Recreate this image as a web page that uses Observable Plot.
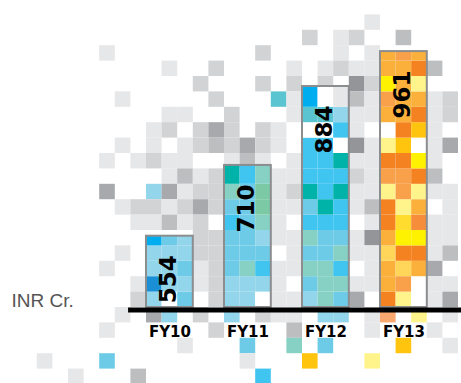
<!DOCTYPE html>
<html>
<head>
<meta charset="utf-8">
<script src="https://cdn.jsdelivr.net/npm/d3@7"></script>
<script src="https://cdn.jsdelivr.net/npm/@observablehq/plot@0.6"></script>
<style>
  html, body { margin: 0; padding: 0; background: #fff; }
  #chart svg { display: block; }
</style>
</head>
<body>
<div id="chart"></div>
<script>
// ---- data ----
const categories = ["FY10", "FY11", "FY12", "FY13"];
const values = [554, 710, 884, 961];
const unitLabel = "INR Cr.";

// mosaic tiles inside each bar, rows from the baseline upward (3 tiles per row)
const fy10Tiles = ["DWC", "EDD", "DDC", "DDD", "ACD"];
const fy11Tiles = ["DDW", "DDD", "CMB", "CCC", "CCD", "BCM", "CCG", "MCG", "TBM"];
const fy12Tiles = ["DMC", "CMM", "MMB", "CCM", "MCC", "BBB", "CTB", "TBT", "BBB", "BBT", "BBW", "WWB", "UUD", "AW1"];
const fy13Tiles = ["OLW", "QPW", "QNQ", "NOO", "QYY", "OZR", "OLQ", "LPL", "PPO", "OOY", "LKW", "WOK", "QQO", "PQQ", "YQL", "QQO", "QPQ"];

// tone codes of the mosaic and their colours
const toneCodes  = ["1", "2", "3", "4", "5", "A", "B", "C", "D", "E", "T", "M", "G", "U",
                    "O", "P", "Q", "Y", "L", "K", "N", "Z", "R", "S", "W"];
const toneColors = ["#e6e7e8", "#d1d3d4", "#bcbec0", "#a7a9ac", "#939598",
                    "#00aeef", "#40c4f0", "#6dcbe8", "#93d5ea", "#1a8fd6", "#00b3a8", "#86d1c3", "#7ccaa5", "#5ac5d0",
                    "#f58220", "#f8a04a", "#fbb03b", "#fff200", "#fff38c", "#ffc50e", "#ffd65a", "#ffdc2e", "#f68d3a", "#f9a870", "#ffffff"];

// background mosaic tiles: [column, row, tone]
const backgroundTiles = [
  [14,18,"1"],
  [10,17,"2"],[12,17,"1"],[13,17,"2"],[16,17,"3"],
  [-3,16,"1"],[7,16,"2"],[12,16,"1"],[14,16,"1"],
  [1,15,"1"],[4,15,"2"],[9,15,"1"],[11,15,"1"],[12,15,"2"],[13,15,"1"],[14,15,"1"],[18,15,"3"],
  [3,14,"2"],[7,14,"2"],[9,14,"2"],[11,14,"2"],[13,14,"5"],[14,14,"2"],
  [-2,13,"1"],[4,13,"2"],[8,13,"U"],[9,13,"1"],[13,13,"3"],[14,13,"1"],[18,13,"1"],[19,13,"2"],
  [1,12,"1"],[2,12,"1"],[5,12,"2"],[9,12,"1"],[13,12,"1"],[14,12,"1"],[18,12,"1"],[19,12,"2"],
  [0,11,"1"],[1,11,"2"],[3,11,"2"],[4,11,"4"],[5,11,"2"],[7,11,"2"],[8,11,"1"],[13,11,"1"],[18,11,"1"],
  [-2,10,"1"],[0,10,"1"],[2,10,"1"],[3,10,"2"],[4,10,"3"],[5,10,"2"],[6,10,"4"],[7,10,"2"],[8,10,"1"],[13,10,"5"],[14,10,"1"],[18,10,"1"],[19,10,"4"],
  [-3,9,"1"],[-1,9,"1"],[0,9,"2"],[1,9,"1"],[2,9,"1"],[5,9,"1"],[6,9,"3"],[7,9,"1"],[9,9,"1"],[13,9,"1"],[14,9,"1"],[18,9,"1"],
  [1,8,"1"],[2,8,"3"],[3,8,"1"],[4,8,"2"],[8,8,"1"],[9,8,"1"],[13,8,"2"],[14,8,"1"],[18,8,"3"],
  [-3,7,"4"],[0,7,"D"],[1,7,"4"],[2,7,"1"],[3,7,"2"],[4,7,"2"],[8,7,"1"],[9,7,"2"],[13,7,"1"],[14,7,"1"],[18,7,"1"],[19,7,"1"],
  [-2,6,"1"],[-1,6,"2"],[0,6,"2"],[1,6,"1"],[2,6,"2"],[3,6,"4"],[4,6,"2"],[8,6,"1"],[9,6,"1"],[13,6,"1"],[14,6,"3"],[19,6,"1"],
  [-1,5,"1"],[0,5,"1"],[1,5,"3"],[2,5,"1"],[3,5,"2"],[8,5,"1"],[14,5,"1"],[18,5,"1"],[19,5,"1"],
  [3,4,"2"],[4,4,"2"],[8,4,"1"],[9,4,"1"],[13,4,"1"],[14,4,"5"],[18,4,"1"],[19,4,"1"],
  [-2,3,"1"],[3,3,"2"],[4,3,"2"],[9,3,"1"],[13,3,"1"],[14,3,"1"],[18,3,"1"],[19,3,"3"],
  [-3,2,"1"],[3,2,"1"],[4,2,"2"],[8,2,"1"],[9,2,"1"],[14,2,"1"],[18,2,"4"],
  [-1,1,"1"],[3,1,"1"],[4,1,"2"],[8,1,"1"],[13,1,"1"],[14,1,"1"],[18,1,"1"],[19,1,"1"],
  [-1,0,"2"],[4,0,"2"],[8,0,"1"],[9,0,"1"],[13,0,"4"],[18,0,"1"],[19,0,"4"],
  [-2,-1,"1"],[0,-1,"4"],[1,-1,"D"],[3,-1,"2"],[5,-1,"D"],[7,-1,"2"],[8,-1,"1"],[9,-1,"1"],[11,-1,"D"],[12,-1,"D"],[14,-1,"1"],[15,-1,"S"],[17,-1,"L"],[19,-1,"1"],
  [-3,-2,"1"],[4,-2,"2"],[9,-2,"3"],[14,-2,"1"],[18,-2,"1"],
  [2,-3,"1"],[6,-3,"C"],[9,-3,"M"],[11,-3,"C"],[16,-3,"K"],[19,-3,"1"],
  [-7,-4,"1"],[-3,-4,"C"],[6,-4,"1"],[10,-4,"K"],[14,-4,"L"],
  [-5,-5,"1"],[-1,-5,"3"],[7,-5,"B"]
];

// ---- layout (grid in columns / value units) ----
const BASE = 396.8;   // value at the baseline of the bars
const ROW = 33.95;    // one mosaic row in value units
const STEP = 5, BARW = 3;
const tileSets = [fy10Tiles, fy11Tiles, fy12Tiles, fy13Tiles];

const bars = categories.map((name, i) => ({name, value: values[i], col: i * STEP}));
const barTiles = bars.flatMap((b, i) => {
  const rows = tileSets[i];
  return rows.flatMap((row, r) => [...row].map((code, k) => ({
    c: b.col + k, r, code,
    top: r === rows.length - 1 ? b.value : BASE + (r + 1) * ROW
  })));
});
const bg = backgroundTiles.map(([c, r, code]) => ({c, r, code}));

const chart = Plot.plot({
  width: 461,
  height: 383,
  margin: 0,
  x: {domain: [-146 / 15.6, 315 / 15.6], axis: null},
  y: {domain: [BASE - (76 / 15.4) * ROW, BASE + (307 / 15.4) * ROW], axis: null},
  color: {type: "ordinal", domain: toneCodes, range: toneColors},
  style: {background: "#fff"},
  marks: [
    Plot.rect(bg, {x1: "c", x2: d => d.c + 1, y1: d => BASE + d.r * ROW, y2: d => BASE + (d.r + 1) * ROW, fill: "code"}),
    Plot.rect(barTiles, {x1: "c", x2: d => d.c + 1, y1: d => BASE + d.r * ROW, y2: "top", fill: "code"}),
    Plot.rect(bars, {x1: "col", x2: d => d.col + BARW, y1: BASE, y2: "value", fill: "none", stroke: "#8b8d8f", strokeWidth: 2}),
    Plot.ruleY([BASE], {x1: -1.15, x2: 21, stroke: "#000", strokeWidth: 5, dy: 2.5}),
    Plot.text(bars, {
      x: d => d.col + BARW / 2, y: "value", text: d => String(d.value),
      rotate: -90, textAnchor: "end", dy: 19, dx: -1,
      fontSize: 23, fontWeight: "bold", fontFamily: "DejaVu Sans", fill: "#000"
    }),
    Plot.text(bars, {
      x: d => d.col + BARW / 2, y: BASE, text: "name", dy: 25,
      fontSize: 15, fontWeight: "bold", fontFamily: "DejaVu Sans", fill: "#000"
    }),
    Plot.text([unitLabel], {
      frameAnchor: "left", y: BASE, text: d => d, dx: 11, dy: -7, textAnchor: "start",
      fontSize: 19, fontFamily: "Liberation Sans", fill: "#555"
    })
  ]
});
document.getElementById("chart").appendChild(chart);
</script>
</body>
</html>
